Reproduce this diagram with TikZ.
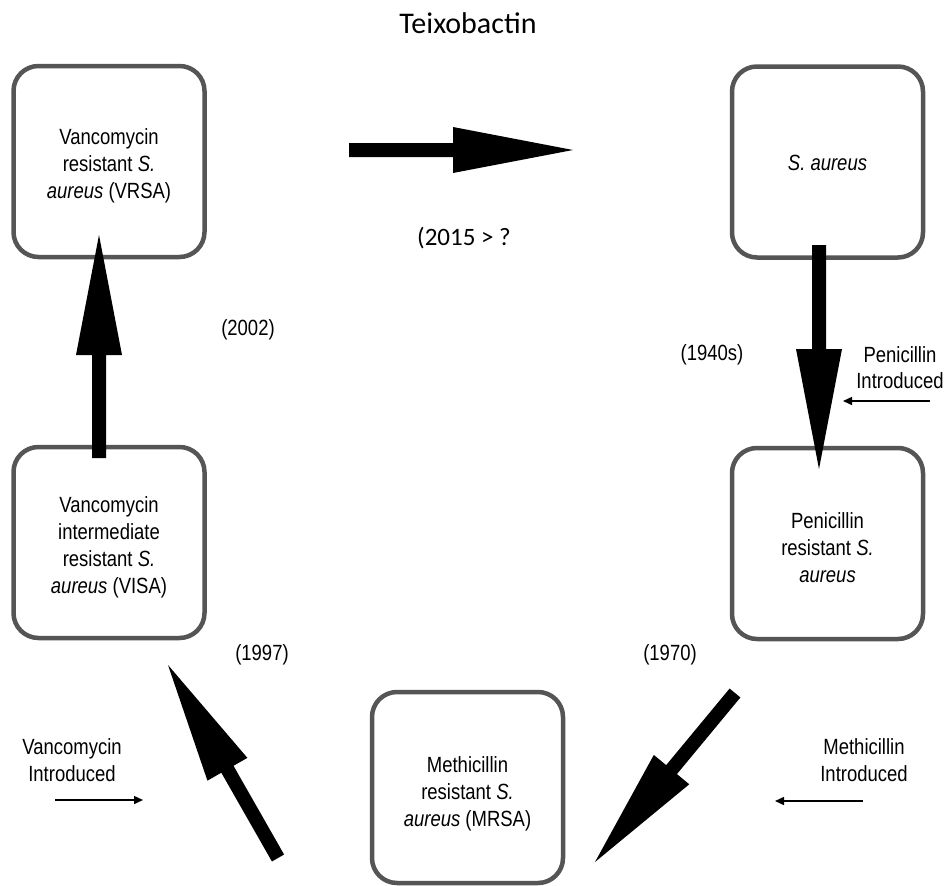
\documentclass[tikz,border=0pt]{standalone}
\usepackage{fontspec}
\setmainfont{Liberation Sans}
\newfontfamily\hvfont[FakeStretch=0.84]{Liberation Sans}
\newfontfamily\calfont{Carlito}
\usetikzlibrary{calc,arrows.meta}
\definecolor{boxgray}{HTML}{555555}

% fat block arrow from coordinate #1 to coordinate #2
\newcommand{\fatarrow}[2]{%
  \coordinate (#1-h) at ($(#2)!120pt!(#1)$);
  \fill[black] ($(#1)!7pt!90:(#2)$) -- ($(#1-h)!7pt!90:(#2)$) -- ($(#1-h)!23pt!90:(#2)$)
     -- (#2) -- ($(#1-h)!23pt!-90:(#2)$) -- ($(#1-h)!7pt!-90:(#2)$) -- ($(#1)!7pt!-90:(#2)$) -- cycle;}

\tikzset{
  stagebox/.style={draw=boxgray, line width=4.5pt, rounded corners=25pt, fill=white,
    minimum width=191pt, minimum height=191pt, inner sep=0pt},
  stagetxt/.style={font=\hvfont\fontsize{22}{27}\selectfont, align=center, inner sep=0pt},
  yeartxt/.style={font=\hvfont\fontsize{22}{27}\selectfont, inner sep=0pt},
  thinarrow/.style={line width=1.5pt, -{Triangle[length=9pt,width=8pt]}},
}

\begin{document}
\begin{tikzpicture}[x=1pt,y=-1pt]
\useasboundingbox[fill=white] (0,0) rectangle (948,886);

% title and top label
\node[font=\calfont\fontsize{30}{36}\selectfont, anchor=base, inner sep=0pt] (title) at (468,33) {Teixobactin};
\node[font=\calfont\fontsize{25}{30}\selectfont, anchor=base, inner sep=0pt] (yr2015) at (464,245) {(2015 > ?};

% boxes
\node[stagebox] (vrsa) at (109,161.5) {};
\node[stagebox] (sa)   at (827.5,162) {};
\node[stagebox] (pen)  at (827.5,543.5) {};
\node[stagebox] (mrsa) at (467.5,787.5) {};
\node[stagebox] (visa) at (109,542.5) {};

\node[stagetxt] (vrsa-t) at ([yshift=-4pt]vrsa.center) {Vancomycin\\resistant \textit{S.}\\\textit{aureus} (VRSA)};
\node[stagetxt] (sa-t)   at ([yshift=-1pt]sa.center) {\textit{S. aureus}};
\node[stagetxt] (pen-t)  at ([yshift=-4pt]pen.center) {Penicillin\\resistant \textit{S.}\\\textit{aureus}};
\node[stagetxt] (mrsa-t) at ([yshift=-6pt]mrsa.center) {Methicillin\\resistant \textit{S.}\\\textit{aureus} (MRSA)};
\node[stagetxt] (visa-t) at ([yshift=-5pt]visa.center) {Vancomycin\\intermediate\\resistant \textit{S.}\\\textit{aureus} (VISA)};

% big arrow end points
\coordinate (a1s) at (349,150);  \coordinate (a1e) at (573,150);
\coordinate (a2s) at (819,245);  \coordinate (a2e) at (819,469);
\coordinate (a3s) at (735,693);  \coordinate (a3e) at (595,862);
\coordinate (a4s) at (278,858);  \coordinate (a4e) at (168,665);
\coordinate (a5s) at (99,458);   \coordinate (a5e) at (99,235);
\fatarrow{a1s}{a1e}
\fatarrow{a2s}{a2e}
\fatarrow{a3s}{a3e}
\fatarrow{a4s}{a4e}
\fatarrow{a5s}{a5e}

% year labels
\node[yeartxt] (y2002) at (248,330) {(2002)};
\node[yeartxt] (y1940) at (712,355) {(1940s)};
\node[yeartxt] (y1997) at (262,655) {(1997)};
\node[yeartxt] (y1970) at (670,655) {(1970)};

% introduced labels
\node[stagetxt, font=\hvfont\fontsize{22}{25.5}\selectfont] (penin) at (900,367.5) {Penicillin\\Introduced};
\node[stagetxt] (methin) at (864,760) {Methicillin\\Introduced};
\node[stagetxt] (vancin) at (72,760) {Vancomycin\\Introduced};

\coordinate (p1) at (930,401); \coordinate (p2) at (843,401);
\coordinate (m1) at (863,801); \coordinate (m2) at (775,801);
\coordinate (v1) at (55,800);  \coordinate (v2) at (143,800);
\draw[thinarrow] (p1) -- (p2);
\draw[thinarrow] (m1) -- (m2);
\draw[thinarrow] (v1) -- (v2);
\end{tikzpicture}
\end{document}
